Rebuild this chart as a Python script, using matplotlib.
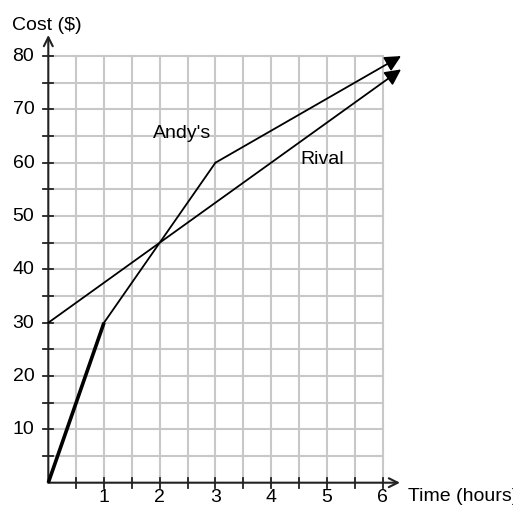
import matplotlib
matplotlib.use("Agg")
import matplotlib.pyplot as plt
import numpy as np

plt.rcParams['font.family'] = ['Liberation Sans', 'DejaVu Sans']

# Data
andy_x = [0, 1, 3, 6.333]
andy_y = [0, 30, 60, 80]
rival_x = [0, 6.333]
rival_y = [30, 77.5]
x_ticks = [1, 2, 3, 4, 5, 6]
y_ticks = [10, 20, 30, 40, 50, 60, 70, 80]
x_label = "Time (hours)"
y_label = "Cost ($)"
andy_label = "Andy's"
rival_label = "Rival"

W, H = 513, 507
fig = plt.figure(figsize=(W / 100, H / 100), dpi=100)
ax = fig.add_axes([0, 0, 1, 1])
ax.set_axis_off()

px_x = 55.7
px_y = 5.333
x0_px, y0_px = 48.3, 482.7
ax.set_xlim(-x0_px / px_x, (W - x0_px) / px_x)
ax.set_ylim(-(H - y0_px) / px_y, y0_px / px_y)


def dx(px):
    return (px - x0_px) / px_x


def dy(py):
    return (y0_px - py) / px_y


grid_c = '#c8c8c8'
for gx in np.arange(0.5, 6.01, 0.5):
    ax.plot([gx, gx], [0, 80], color=grid_c, lw=1.5, zorder=1)
for gy in np.arange(5, 80.01, 5):
    ax.plot([0, 6], [gy, gy], color=grid_c, lw=1.5, zorder=1)

axc = '#222222'
ax.annotate('', xy=(0, dy(35)), xytext=(0, 0),
            arrowprops=dict(arrowstyle='->', color=axc, lw=1.5, shrinkA=0, shrinkB=0,
                            mutation_scale=16), zorder=3)
ax.annotate('', xy=(dx(400), 0), xytext=(0, 0),
            arrowprops=dict(arrowstyle='->', color=axc, lw=1.5, shrinkA=0, shrinkB=0,
                            mutation_scale=16), zorder=3)

tick_half_x = 5 / px_x
tick_half_y = 5 / px_y
for gy in np.arange(5, 80.01, 5):
    ax.plot([-tick_half_x, tick_half_x], [gy, gy], color=axc, lw=1.3, zorder=3)
for gx in np.arange(0.5, 6.01, 0.5):
    ax.plot([gx, gx], [-tick_half_y, tick_half_y], color=axc, lw=1.3, zorder=3)

fs = 14
for v in y_ticks:
    ax.text(-14 / px_x, v - 5 / px_y, str(v), ha='right', va='baseline', fontsize=fs,
            color='black')
for v in x_ticks:
    ax.text(v, dy(502.5), str(v), ha='center', va='baseline', fontsize=fs, color='black')

ax.text(dx(11.5), dy(29.5), y_label, ha='left', va='baseline', fontsize=fs)
ax.text(dx(408), dy(501), x_label, ha='left', va='baseline', fontsize=fs)

# Andy's line
ax.plot(andy_x[:2], andy_y[:2], color='black', lw=2.6, solid_capstyle='butt', zorder=4)
ax.plot(andy_x[1:3], andy_y[1:3], color='black', lw=1.3, zorder=4)
ax.annotate('', xy=(andy_x[3], andy_y[3]), xytext=(andy_x[2], andy_y[2]),
            arrowprops=dict(arrowstyle='-|>', color='black', lw=1.3, shrinkA=0, shrinkB=0,
                            mutation_scale=24), zorder=4)
# Rival line
ax.annotate('', xy=(rival_x[1], rival_y[1]), xytext=(rival_x[0], rival_y[0]),
            arrowprops=dict(arrowstyle='-|>', color='black', lw=1.3, shrinkA=0, shrinkB=0,
                            mutation_scale=24), zorder=4)

ax.text(dx(153.3), dy(137.7), andy_label, ha='left', va='baseline', fontsize=fs)
ax.text(dx(300), dy(164.3), rival_label, ha='left', va='baseline', fontsize=fs)

fig.savefig('out.png', dpi=100)
